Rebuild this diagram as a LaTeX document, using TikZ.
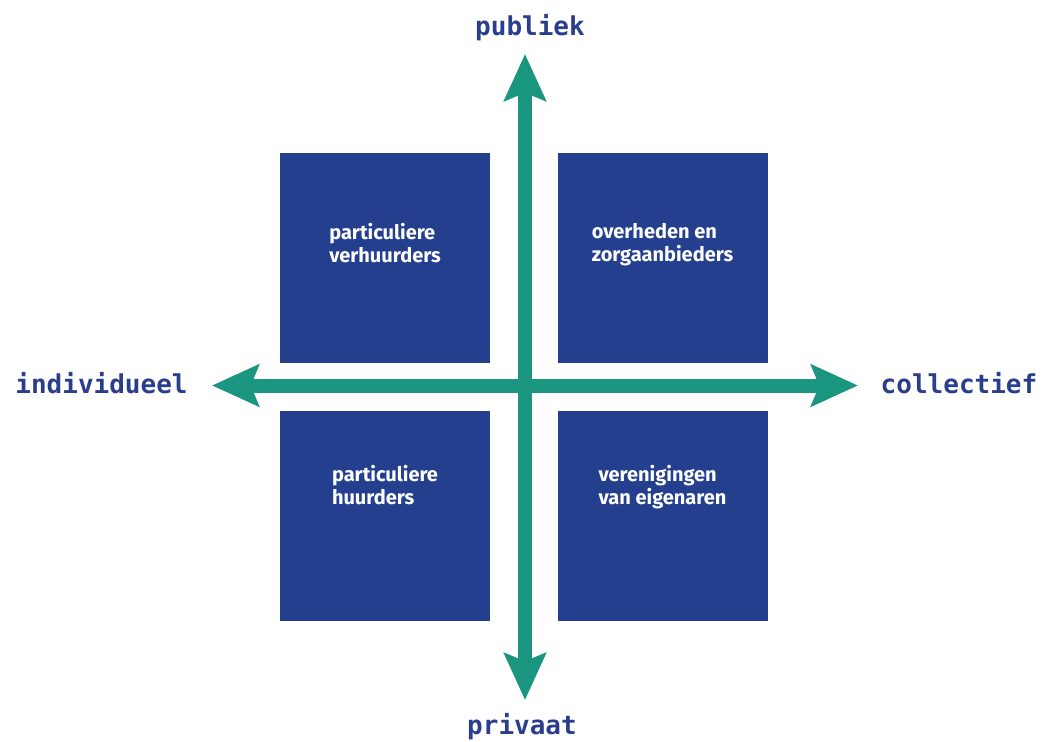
\documentclass[tikz,border=0pt]{standalone}
\usepackage{fontspec}
\setmainfont{Fira Sans}
\newfontfamily\asfont{DejaVu Sans Mono}
\usetikzlibrary{positioning}
\usetikzlibrary{arrows.meta}
\definecolor{vakblauw}{HTML}{253F8F}
\definecolor{asgroen}{HTML}{1A9580}
\definecolor{poolblauw}{HTML}{2B3E8C}
\tikzset{
   vak/.style = {%
    shape=rectangle,
    fill=vakblauw,
    minimum width=157.5pt,
    minimum height=157.5pt,
    inner sep=0pt},
   vaktekst/.style = {%
    text=white,
    align=left,
    inner sep=0pt,
    font=\fontsize{15}{17.25}\selectfont\bfseries},
   as/.style = {%
    draw=asgroen,
    line width=10.5pt,% <-- dikte van de assen
    {Stealth[length=35pt, width=31pt, inset=6pt]}-{Stealth[length=35pt, width=31pt, inset=6pt]}},
   pool/.style = {%
    text=poolblauw,
    anchor=base,
    inner sep=0pt,
    font=\asfont\bfseries\fontsize{19.5}{19.5}\selectfont},
    }

\begin{document}
\begin{tikzpicture}[x=0.75pt, y=-0.75pt]
    \useasboundingbox (0,0) rectangle (1049,742);
    % kwadranten
    \node[vak] (lb) at (385,258) {};
    \node[vak] (rb) at (662.5,258) {};
    \node[vak] (lo) at (385,515.5) {};
    \node[vak] (ro) at (662.5,515.5) {};
    \node[vaktekst, below=53pt of lb.north] (lbt) {particuliere\\verhuurders};
    \node[vaktekst, below=53pt of rb.north] (rbt) {overheden en\\zorgaanbieders};
    \node[vaktekst, below=41pt of lo.north] (lot) {particuliere\\huurders};
    \node[vaktekst, below=41pt of ro.north] (rot) {verenigingen\\van eigenaren};
    % assen
    \coordinate (boven) at (525,54);
    \coordinate (onder) at (525,700);
    \coordinate (links) at (212,385.5);
    \coordinate (rechts) at (858,385.5);
    \draw[as] (onder) -- (boven);
    \draw[as] (links) -- (rechts);
    % polen
    \node[pool] (publiek) at (530,36) {publiek};
    \node[pool] (privaat) at (522,734) {privaat};
    \node[pool] (individueel) at (101.5,393) {individueel};
    \node[pool] (collectief) at (959,393) {collectief};
\end{tikzpicture}
\end{document}
